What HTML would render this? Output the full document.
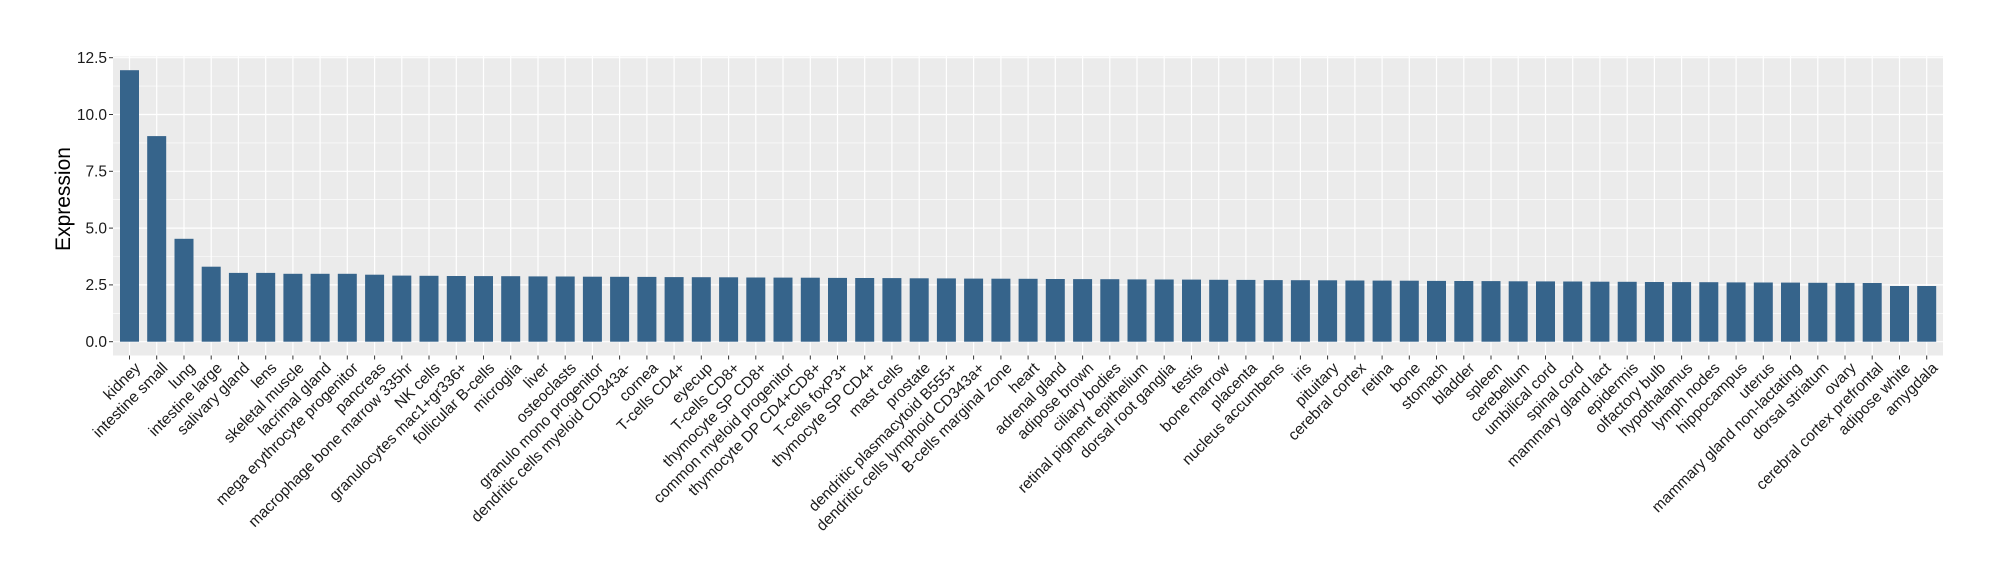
<!DOCTYPE html>
<html><head><meta charset="utf-8"><style>
html,body{margin:0;padding:0;background:#fff}
svg{display:block}
text{font-family:"Liberation Sans",Arial,sans-serif}
</style></head><body>
<svg width="2000" height="580" viewBox="0 0 2000 580" xmlns="http://www.w3.org/2000/svg">
<rect x="0" y="0" width="2000" height="580" fill="#fff"/>
<rect x="113" y="56.5" width="1830" height="299" fill="#EBEBEB"/>
<g stroke="#fff" stroke-width="0.6">
<line x1="113" x2="1943" y1="313.3" y2="313.3"/><line x1="113" x2="1943" y1="256.5" y2="256.5"/><line x1="113" x2="1943" y1="199.7" y2="199.7"/><line x1="113" x2="1943" y1="142.9" y2="142.9"/><line x1="113" x2="1943" y1="86.1" y2="86.1"/>
</g>
<g stroke="#fff" stroke-width="1.2">
<line x1="113" x2="1943" y1="341.7" y2="341.7"/><line x1="113" x2="1943" y1="284.9" y2="284.9"/><line x1="113" x2="1943" y1="228.1" y2="228.1"/><line x1="113" x2="1943" y1="171.3" y2="171.3"/><line x1="113" x2="1943" y1="114.5" y2="114.5"/><line x1="113" x2="1943" y1="57.7" y2="57.7"/>
</g>
<g font-size="15.5" fill="#1a1a1a" text-anchor="end">
<text x="107" y="347">0.0</text><text x="107" y="290.2">2.5</text><text x="107" y="233.4">5.0</text><text x="107" y="176.6">7.5</text><text x="107" y="119.8">10.0</text><text x="107" y="63">12.5</text>
</g>
<g stroke="#333" stroke-width="1">
<line x1="109" x2="113" y1="341.7" y2="341.7"/><line x1="109" x2="113" y1="284.9" y2="284.9"/><line x1="109" x2="113" y1="228.1" y2="228.1"/><line x1="109" x2="113" y1="171.3" y2="171.3"/><line x1="109" x2="113" y1="114.5" y2="114.5"/><line x1="109" x2="113" y1="57.7" y2="57.7"/>
</g>
<text transform="translate(70,199) rotate(-90)" text-anchor="middle" font-size="21" fill="#000">Expression</text>
<g id="bars" font-size="15.5" fill="#1a1a1a">
<g transform="translate(129.5,0)"><line x1="0" x2="0" y1="56.5" y2="355.5" stroke="#fff" stroke-width="1.2"/><rect x="-9.5" y="70.2" width="19" height="271.5" fill="#36648B"/><line x1="0" x2="0" y1="355.5" y2="359.5" stroke="#333"/><text transform="translate(4,361) rotate(-45)" text-anchor="end" dy="0.72em">kidney</text></g>
<g transform="translate(156.7,0)"><line x1="0" x2="0" y1="56.5" y2="355.5" stroke="#fff" stroke-width="1.2"/><rect x="-9.5" y="136.1" width="19" height="205.6" fill="#36648B"/><line x1="0" x2="0" y1="355.5" y2="359.5" stroke="#333"/><text transform="translate(4,361) rotate(-45)" text-anchor="end" dy="0.72em">intestine small</text></g>
<g transform="translate(184.0,0)"><line x1="0" x2="0" y1="56.5" y2="355.5" stroke="#fff" stroke-width="1.2"/><rect x="-9.5" y="238.8" width="19" height="102.9" fill="#36648B"/><line x1="0" x2="0" y1="355.5" y2="359.5" stroke="#333"/><text transform="translate(4,361) rotate(-45)" text-anchor="end" dy="0.72em">lung</text></g>
<g transform="translate(211.2,0)"><line x1="0" x2="0" y1="56.5" y2="355.5" stroke="#fff" stroke-width="1.2"/><rect x="-9.5" y="266.7" width="19" height="75" fill="#36648B"/><line x1="0" x2="0" y1="355.5" y2="359.5" stroke="#333"/><text transform="translate(4,361) rotate(-45)" text-anchor="end" dy="0.72em">intestine large</text></g>
<g transform="translate(238.4,0)"><line x1="0" x2="0" y1="56.5" y2="355.5" stroke="#fff" stroke-width="1.2"/><rect x="-9.5" y="272.9" width="19" height="68.8" fill="#36648B"/><line x1="0" x2="0" y1="355.5" y2="359.5" stroke="#333"/><text transform="translate(4,361) rotate(-45)" text-anchor="end" dy="0.72em">salivary gland</text></g>
<g transform="translate(265.7,0)"><line x1="0" x2="0" y1="56.5" y2="355.5" stroke="#fff" stroke-width="1.2"/><rect x="-9.5" y="272.9" width="19" height="68.8" fill="#36648B"/><line x1="0" x2="0" y1="355.5" y2="359.5" stroke="#333"/><text transform="translate(4,361) rotate(-45)" text-anchor="end" dy="0.72em">lens</text></g>
<g transform="translate(292.9,0)"><line x1="0" x2="0" y1="56.5" y2="355.5" stroke="#fff" stroke-width="1.2"/><rect x="-9.5" y="273.8" width="19" height="67.9" fill="#36648B"/><line x1="0" x2="0" y1="355.5" y2="359.5" stroke="#333"/><text transform="translate(4,361) rotate(-45)" text-anchor="end" dy="0.72em">skeletal muscle</text></g>
<g transform="translate(320.1,0)"><line x1="0" x2="0" y1="56.5" y2="355.5" stroke="#fff" stroke-width="1.2"/><rect x="-9.5" y="273.8" width="19" height="67.9" fill="#36648B"/><line x1="0" x2="0" y1="355.5" y2="359.5" stroke="#333"/><text transform="translate(4,361) rotate(-45)" text-anchor="end" dy="0.72em">lacrimal gland</text></g>
<g transform="translate(347.3,0)"><line x1="0" x2="0" y1="56.5" y2="355.5" stroke="#fff" stroke-width="1.2"/><rect x="-9.5" y="273.8" width="19" height="67.9" fill="#36648B"/><line x1="0" x2="0" y1="355.5" y2="359.5" stroke="#333"/><text transform="translate(4,361) rotate(-45)" text-anchor="end" dy="0.72em">mega erythrocyte progenitor</text></g>
<g transform="translate(374.6,0)"><line x1="0" x2="0" y1="56.5" y2="355.5" stroke="#fff" stroke-width="1.2"/><rect x="-9.5" y="274.7" width="19" height="67" fill="#36648B"/><line x1="0" x2="0" y1="355.5" y2="359.5" stroke="#333"/><text transform="translate(4,361) rotate(-45)" text-anchor="end" dy="0.72em">pancreas</text></g>
<g transform="translate(401.8,0)"><line x1="0" x2="0" y1="56.5" y2="355.5" stroke="#fff" stroke-width="1.2"/><rect x="-9.5" y="275.6" width="19" height="66.1" fill="#36648B"/><line x1="0" x2="0" y1="355.5" y2="359.5" stroke="#333"/><text transform="translate(4,361) rotate(-45)" text-anchor="end" dy="0.72em">macrophage bone marrow 335hr</text></g>
<g transform="translate(429.0,0)"><line x1="0" x2="0" y1="56.5" y2="355.5" stroke="#fff" stroke-width="1.2"/><rect x="-9.5" y="275.8" width="19" height="65.9" fill="#36648B"/><line x1="0" x2="0" y1="355.5" y2="359.5" stroke="#333"/><text transform="translate(4,361) rotate(-45)" text-anchor="end" dy="0.72em">NK cells</text></g>
<g transform="translate(456.3,0)"><line x1="0" x2="0" y1="56.5" y2="355.5" stroke="#fff" stroke-width="1.2"/><rect x="-9.5" y="276.0" width="19" height="65.7" fill="#36648B"/><line x1="0" x2="0" y1="355.5" y2="359.5" stroke="#333"/><text transform="translate(4,361) rotate(-45)" text-anchor="end" dy="0.72em">granulocytes mac1+gr336+</text></g>
<g transform="translate(483.5,0)"><line x1="0" x2="0" y1="56.5" y2="355.5" stroke="#fff" stroke-width="1.2"/><rect x="-9.5" y="276.1" width="19" height="65.6" fill="#36648B"/><line x1="0" x2="0" y1="355.5" y2="359.5" stroke="#333"/><text transform="translate(4,361) rotate(-45)" text-anchor="end" dy="0.72em">follicular B-cells</text></g>
<g transform="translate(510.7,0)"><line x1="0" x2="0" y1="56.5" y2="355.5" stroke="#fff" stroke-width="1.2"/><rect x="-9.5" y="276.2" width="19" height="65.5" fill="#36648B"/><line x1="0" x2="0" y1="355.5" y2="359.5" stroke="#333"/><text transform="translate(4,361) rotate(-45)" text-anchor="end" dy="0.72em">microglia</text></g>
<g transform="translate(538.0,0)"><line x1="0" x2="0" y1="56.5" y2="355.5" stroke="#fff" stroke-width="1.2"/><rect x="-9.5" y="276.4" width="19" height="65.3" fill="#36648B"/><line x1="0" x2="0" y1="355.5" y2="359.5" stroke="#333"/><text transform="translate(4,361) rotate(-45)" text-anchor="end" dy="0.72em">liver</text></g>
<g transform="translate(565.2,0)"><line x1="0" x2="0" y1="56.5" y2="355.5" stroke="#fff" stroke-width="1.2"/><rect x="-9.5" y="276.5" width="19" height="65.2" fill="#36648B"/><line x1="0" x2="0" y1="355.5" y2="359.5" stroke="#333"/><text transform="translate(4,361) rotate(-45)" text-anchor="end" dy="0.72em">osteoclasts</text></g>
<g transform="translate(592.4,0)"><line x1="0" x2="0" y1="56.5" y2="355.5" stroke="#fff" stroke-width="1.2"/><rect x="-9.5" y="276.7" width="19" height="65.0" fill="#36648B"/><line x1="0" x2="0" y1="355.5" y2="359.5" stroke="#333"/><text transform="translate(4,361) rotate(-45)" text-anchor="end" dy="0.72em">granulo mono progenitor</text></g>
<g transform="translate(619.6,0)"><line x1="0" x2="0" y1="56.5" y2="355.5" stroke="#fff" stroke-width="1.2"/><rect x="-9.5" y="276.8" width="19" height="64.9" fill="#36648B"/><line x1="0" x2="0" y1="355.5" y2="359.5" stroke="#333"/><text transform="translate(4,361) rotate(-45)" text-anchor="end" dy="0.72em">dendritic cells myeloid CD343a-</text></g>
<g transform="translate(646.9,0)"><line x1="0" x2="0" y1="56.5" y2="355.5" stroke="#fff" stroke-width="1.2"/><rect x="-9.5" y="276.9" width="19" height="64.8" fill="#36648B"/><line x1="0" x2="0" y1="355.5" y2="359.5" stroke="#333"/><text transform="translate(4,361) rotate(-45)" text-anchor="end" dy="0.72em">cornea</text></g>
<g transform="translate(674.1,0)"><line x1="0" x2="0" y1="56.5" y2="355.5" stroke="#fff" stroke-width="1.2"/><rect x="-9.5" y="277.1" width="19" height="64.6" fill="#36648B"/><line x1="0" x2="0" y1="355.5" y2="359.5" stroke="#333"/><text transform="translate(4,361) rotate(-45)" text-anchor="end" dy="0.72em">T-cells CD4+</text></g>
<g transform="translate(701.3,0)"><line x1="0" x2="0" y1="56.5" y2="355.5" stroke="#fff" stroke-width="1.2"/><rect x="-9.5" y="277.2" width="19" height="64.5" fill="#36648B"/><line x1="0" x2="0" y1="355.5" y2="359.5" stroke="#333"/><text transform="translate(4,361) rotate(-45)" text-anchor="end" dy="0.72em">eyecup</text></g>
<g transform="translate(728.6,0)"><line x1="0" x2="0" y1="56.5" y2="355.5" stroke="#fff" stroke-width="1.2"/><rect x="-9.5" y="277.3" width="19" height="64.4" fill="#36648B"/><line x1="0" x2="0" y1="355.5" y2="359.5" stroke="#333"/><text transform="translate(4,361) rotate(-45)" text-anchor="end" dy="0.72em">T-cells CD8+</text></g>
<g transform="translate(755.8,0)"><line x1="0" x2="0" y1="56.5" y2="355.5" stroke="#fff" stroke-width="1.2"/><rect x="-9.5" y="277.5" width="19" height="64.2" fill="#36648B"/><line x1="0" x2="0" y1="355.5" y2="359.5" stroke="#333"/><text transform="translate(4,361) rotate(-45)" text-anchor="end" dy="0.72em">thymocyte SP CD8+</text></g>
<g transform="translate(783.0,0)"><line x1="0" x2="0" y1="56.5" y2="355.5" stroke="#fff" stroke-width="1.2"/><rect x="-9.5" y="277.6" width="19" height="64.1" fill="#36648B"/><line x1="0" x2="0" y1="355.5" y2="359.5" stroke="#333"/><text transform="translate(4,361) rotate(-45)" text-anchor="end" dy="0.72em">common myeloid progenitor</text></g>
<g transform="translate(810.3,0)"><line x1="0" x2="0" y1="56.5" y2="355.5" stroke="#fff" stroke-width="1.2"/><rect x="-9.5" y="277.7" width="19" height="64.0" fill="#36648B"/><line x1="0" x2="0" y1="355.5" y2="359.5" stroke="#333"/><text transform="translate(4,361) rotate(-45)" text-anchor="end" dy="0.72em">thymocyte DP CD4+CD8+</text></g>
<g transform="translate(837.5,0)"><line x1="0" x2="0" y1="56.5" y2="355.5" stroke="#fff" stroke-width="1.2"/><rect x="-9.5" y="277.9" width="19" height="63.8" fill="#36648B"/><line x1="0" x2="0" y1="355.5" y2="359.5" stroke="#333"/><text transform="translate(4,361) rotate(-45)" text-anchor="end" dy="0.72em">T-cells foxP3+</text></g>
<g transform="translate(864.7,0)"><line x1="0" x2="0" y1="56.5" y2="355.5" stroke="#fff" stroke-width="1.2"/><rect x="-9.5" y="278.0" width="19" height="63.7" fill="#36648B"/><line x1="0" x2="0" y1="355.5" y2="359.5" stroke="#333"/><text transform="translate(4,361) rotate(-45)" text-anchor="end" dy="0.72em">thymocyte SP CD4+</text></g>
<g transform="translate(891.9,0)"><line x1="0" x2="0" y1="56.5" y2="355.5" stroke="#fff" stroke-width="1.2"/><rect x="-9.5" y="278.1" width="19" height="63.6" fill="#36648B"/><line x1="0" x2="0" y1="355.5" y2="359.5" stroke="#333"/><text transform="translate(4,361) rotate(-45)" text-anchor="end" dy="0.72em">mast cells</text></g>
<g transform="translate(919.2,0)"><line x1="0" x2="0" y1="56.5" y2="355.5" stroke="#fff" stroke-width="1.2"/><rect x="-9.5" y="278.3" width="19" height="63.4" fill="#36648B"/><line x1="0" x2="0" y1="355.5" y2="359.5" stroke="#333"/><text transform="translate(4,361) rotate(-45)" text-anchor="end" dy="0.72em">prostate</text></g>
<g transform="translate(946.4,0)"><line x1="0" x2="0" y1="56.5" y2="355.5" stroke="#fff" stroke-width="1.2"/><rect x="-9.5" y="278.4" width="19" height="63.3" fill="#36648B"/><line x1="0" x2="0" y1="355.5" y2="359.5" stroke="#333"/><text transform="translate(4,361) rotate(-45)" text-anchor="end" dy="0.72em">dendritic plasmacytoid B555+</text></g>
<g transform="translate(973.6,0)"><line x1="0" x2="0" y1="56.5" y2="355.5" stroke="#fff" stroke-width="1.2"/><rect x="-9.5" y="278.6" width="19" height="63.1" fill="#36648B"/><line x1="0" x2="0" y1="355.5" y2="359.5" stroke="#333"/><text transform="translate(4,361) rotate(-45)" text-anchor="end" dy="0.72em">dendritic cells lymphoid CD343a+</text></g>
<g transform="translate(1000.9,0)"><line x1="0" x2="0" y1="56.5" y2="355.5" stroke="#fff" stroke-width="1.2"/><rect x="-9.5" y="278.7" width="19" height="63.0" fill="#36648B"/><line x1="0" x2="0" y1="355.5" y2="359.5" stroke="#333"/><text transform="translate(4,361) rotate(-45)" text-anchor="end" dy="0.72em">B-cells marginal zone</text></g>
<g transform="translate(1028.1,0)"><line x1="0" x2="0" y1="56.5" y2="355.5" stroke="#fff" stroke-width="1.2"/><rect x="-9.5" y="278.8" width="19" height="62.9" fill="#36648B"/><line x1="0" x2="0" y1="355.5" y2="359.5" stroke="#333"/><text transform="translate(4,361) rotate(-45)" text-anchor="end" dy="0.72em">heart</text></g>
<g transform="translate(1055.3,0)"><line x1="0" x2="0" y1="56.5" y2="355.5" stroke="#fff" stroke-width="1.2"/><rect x="-9.5" y="279.0" width="19" height="62.7" fill="#36648B"/><line x1="0" x2="0" y1="355.5" y2="359.5" stroke="#333"/><text transform="translate(4,361) rotate(-45)" text-anchor="end" dy="0.72em">adrenal gland</text></g>
<g transform="translate(1082.6,0)"><line x1="0" x2="0" y1="56.5" y2="355.5" stroke="#fff" stroke-width="1.2"/><rect x="-9.5" y="279.1" width="19" height="62.6" fill="#36648B"/><line x1="0" x2="0" y1="355.5" y2="359.5" stroke="#333"/><text transform="translate(4,361) rotate(-45)" text-anchor="end" dy="0.72em">adipose brown</text></g>
<g transform="translate(1109.8,0)"><line x1="0" x2="0" y1="56.5" y2="355.5" stroke="#fff" stroke-width="1.2"/><rect x="-9.5" y="279.2" width="19" height="62.5" fill="#36648B"/><line x1="0" x2="0" y1="355.5" y2="359.5" stroke="#333"/><text transform="translate(4,361) rotate(-45)" text-anchor="end" dy="0.72em">ciliary bodies</text></g>
<g transform="translate(1137.0,0)"><line x1="0" x2="0" y1="56.5" y2="355.5" stroke="#fff" stroke-width="1.2"/><rect x="-9.5" y="279.4" width="19" height="62.3" fill="#36648B"/><line x1="0" x2="0" y1="355.5" y2="359.5" stroke="#333"/><text transform="translate(4,361) rotate(-45)" text-anchor="end" dy="0.72em">retinal pigment epithelium</text></g>
<g transform="translate(1164.2,0)"><line x1="0" x2="0" y1="56.5" y2="355.5" stroke="#fff" stroke-width="1.2"/><rect x="-9.5" y="279.5" width="19" height="62.2" fill="#36648B"/><line x1="0" x2="0" y1="355.5" y2="359.5" stroke="#333"/><text transform="translate(4,361) rotate(-45)" text-anchor="end" dy="0.72em">dorsal root ganglia</text></g>
<g transform="translate(1191.5,0)"><line x1="0" x2="0" y1="56.5" y2="355.5" stroke="#fff" stroke-width="1.2"/><rect x="-9.5" y="279.6" width="19" height="62.1" fill="#36648B"/><line x1="0" x2="0" y1="355.5" y2="359.5" stroke="#333"/><text transform="translate(4,361) rotate(-45)" text-anchor="end" dy="0.72em">testis</text></g>
<g transform="translate(1218.7,0)"><line x1="0" x2="0" y1="56.5" y2="355.5" stroke="#fff" stroke-width="1.2"/><rect x="-9.5" y="279.8" width="19" height="61.9" fill="#36648B"/><line x1="0" x2="0" y1="355.5" y2="359.5" stroke="#333"/><text transform="translate(4,361) rotate(-45)" text-anchor="end" dy="0.72em">bone marrow</text></g>
<g transform="translate(1245.9,0)"><line x1="0" x2="0" y1="56.5" y2="355.5" stroke="#fff" stroke-width="1.2"/><rect x="-9.5" y="279.9" width="19" height="61.8" fill="#36648B"/><line x1="0" x2="0" y1="355.5" y2="359.5" stroke="#333"/><text transform="translate(4,361) rotate(-45)" text-anchor="end" dy="0.72em">placenta</text></g>
<g transform="translate(1273.2,0)"><line x1="0" x2="0" y1="56.5" y2="355.5" stroke="#fff" stroke-width="1.2"/><rect x="-9.5" y="280.1" width="19" height="61.6" fill="#36648B"/><line x1="0" x2="0" y1="355.5" y2="359.5" stroke="#333"/><text transform="translate(4,361) rotate(-45)" text-anchor="end" dy="0.72em">nucleus accumbens</text></g>
<g transform="translate(1300.4,0)"><line x1="0" x2="0" y1="56.5" y2="355.5" stroke="#fff" stroke-width="1.2"/><rect x="-9.5" y="280.2" width="19" height="61.5" fill="#36648B"/><line x1="0" x2="0" y1="355.5" y2="359.5" stroke="#333"/><text transform="translate(4,361) rotate(-45)" text-anchor="end" dy="0.72em">iris</text></g>
<g transform="translate(1327.6,0)"><line x1="0" x2="0" y1="56.5" y2="355.5" stroke="#fff" stroke-width="1.2"/><rect x="-9.5" y="280.3" width="19" height="61.4" fill="#36648B"/><line x1="0" x2="0" y1="355.5" y2="359.5" stroke="#333"/><text transform="translate(4,361) rotate(-45)" text-anchor="end" dy="0.72em">pituitary</text></g>
<g transform="translate(1354.9,0)"><line x1="0" x2="0" y1="56.5" y2="355.5" stroke="#fff" stroke-width="1.2"/><rect x="-9.5" y="280.5" width="19" height="61.2" fill="#36648B"/><line x1="0" x2="0" y1="355.5" y2="359.5" stroke="#333"/><text transform="translate(4,361) rotate(-45)" text-anchor="end" dy="0.72em">cerebral cortex</text></g>
<g transform="translate(1382.1,0)"><line x1="0" x2="0" y1="56.5" y2="355.5" stroke="#fff" stroke-width="1.2"/><rect x="-9.5" y="280.6" width="19" height="61.1" fill="#36648B"/><line x1="0" x2="0" y1="355.5" y2="359.5" stroke="#333"/><text transform="translate(4,361) rotate(-45)" text-anchor="end" dy="0.72em">retina</text></g>
<g transform="translate(1409.3,0)"><line x1="0" x2="0" y1="56.5" y2="355.5" stroke="#fff" stroke-width="1.2"/><rect x="-9.5" y="280.7" width="19" height="61.0" fill="#36648B"/><line x1="0" x2="0" y1="355.5" y2="359.5" stroke="#333"/><text transform="translate(4,361) rotate(-45)" text-anchor="end" dy="0.72em">bone</text></g>
<g transform="translate(1436.5,0)"><line x1="0" x2="0" y1="56.5" y2="355.5" stroke="#fff" stroke-width="1.2"/><rect x="-9.5" y="280.9" width="19" height="60.8" fill="#36648B"/><line x1="0" x2="0" y1="355.5" y2="359.5" stroke="#333"/><text transform="translate(4,361) rotate(-45)" text-anchor="end" dy="0.72em">stomach</text></g>
<g transform="translate(1463.8,0)"><line x1="0" x2="0" y1="56.5" y2="355.5" stroke="#fff" stroke-width="1.2"/><rect x="-9.5" y="281.0" width="19" height="60.7" fill="#36648B"/><line x1="0" x2="0" y1="355.5" y2="359.5" stroke="#333"/><text transform="translate(4,361) rotate(-45)" text-anchor="end" dy="0.72em">bladder</text></g>
<g transform="translate(1491.0,0)"><line x1="0" x2="0" y1="56.5" y2="355.5" stroke="#fff" stroke-width="1.2"/><rect x="-9.5" y="281.1" width="19" height="60.6" fill="#36648B"/><line x1="0" x2="0" y1="355.5" y2="359.5" stroke="#333"/><text transform="translate(4,361) rotate(-45)" text-anchor="end" dy="0.72em">spleen</text></g>
<g transform="translate(1518.2,0)"><line x1="0" x2="0" y1="56.5" y2="355.5" stroke="#fff" stroke-width="1.2"/><rect x="-9.5" y="281.3" width="19" height="60.4" fill="#36648B"/><line x1="0" x2="0" y1="355.5" y2="359.5" stroke="#333"/><text transform="translate(4,361) rotate(-45)" text-anchor="end" dy="0.72em">cerebellum</text></g>
<g transform="translate(1545.5,0)"><line x1="0" x2="0" y1="56.5" y2="355.5" stroke="#fff" stroke-width="1.2"/><rect x="-9.5" y="281.4" width="19" height="60.3" fill="#36648B"/><line x1="0" x2="0" y1="355.5" y2="359.5" stroke="#333"/><text transform="translate(4,361) rotate(-45)" text-anchor="end" dy="0.72em">umbilical cord</text></g>
<g transform="translate(1572.7,0)"><line x1="0" x2="0" y1="56.5" y2="355.5" stroke="#fff" stroke-width="1.2"/><rect x="-9.5" y="281.5" width="19" height="60.2" fill="#36648B"/><line x1="0" x2="0" y1="355.5" y2="359.5" stroke="#333"/><text transform="translate(4,361) rotate(-45)" text-anchor="end" dy="0.72em">spinal cord</text></g>
<g transform="translate(1599.9,0)"><line x1="0" x2="0" y1="56.5" y2="355.5" stroke="#fff" stroke-width="1.2"/><rect x="-9.5" y="281.7" width="19" height="60.0" fill="#36648B"/><line x1="0" x2="0" y1="355.5" y2="359.5" stroke="#333"/><text transform="translate(4,361) rotate(-45)" text-anchor="end" dy="0.72em">mammary gland  lact</text></g>
<g transform="translate(1627.2,0)"><line x1="0" x2="0" y1="56.5" y2="355.5" stroke="#fff" stroke-width="1.2"/><rect x="-9.5" y="281.8" width="19" height="59.9" fill="#36648B"/><line x1="0" x2="0" y1="355.5" y2="359.5" stroke="#333"/><text transform="translate(4,361) rotate(-45)" text-anchor="end" dy="0.72em">epidermis</text></g>
<g transform="translate(1654.4,0)"><line x1="0" x2="0" y1="56.5" y2="355.5" stroke="#fff" stroke-width="1.2"/><rect x="-9.5" y="282.0" width="19" height="59.7" fill="#36648B"/><line x1="0" x2="0" y1="355.5" y2="359.5" stroke="#333"/><text transform="translate(4,361) rotate(-45)" text-anchor="end" dy="0.72em">olfactory bulb</text></g>
<g transform="translate(1681.6,0)"><line x1="0" x2="0" y1="56.5" y2="355.5" stroke="#fff" stroke-width="1.2"/><rect x="-9.5" y="282.1" width="19" height="59.6" fill="#36648B"/><line x1="0" x2="0" y1="355.5" y2="359.5" stroke="#333"/><text transform="translate(4,361) rotate(-45)" text-anchor="end" dy="0.72em">hypothalamus</text></g>
<g transform="translate(1708.8,0)"><line x1="0" x2="0" y1="56.5" y2="355.5" stroke="#fff" stroke-width="1.2"/><rect x="-9.5" y="282.2" width="19" height="59.5" fill="#36648B"/><line x1="0" x2="0" y1="355.5" y2="359.5" stroke="#333"/><text transform="translate(4,361) rotate(-45)" text-anchor="end" dy="0.72em">lymph nodes</text></g>
<g transform="translate(1736.1,0)"><line x1="0" x2="0" y1="56.5" y2="355.5" stroke="#fff" stroke-width="1.2"/><rect x="-9.5" y="282.4" width="19" height="59.3" fill="#36648B"/><line x1="0" x2="0" y1="355.5" y2="359.5" stroke="#333"/><text transform="translate(4,361) rotate(-45)" text-anchor="end" dy="0.72em">hippocampus</text></g>
<g transform="translate(1763.3,0)"><line x1="0" x2="0" y1="56.5" y2="355.5" stroke="#fff" stroke-width="1.2"/><rect x="-9.5" y="282.5" width="19" height="59.2" fill="#36648B"/><line x1="0" x2="0" y1="355.5" y2="359.5" stroke="#333"/><text transform="translate(4,361) rotate(-45)" text-anchor="end" dy="0.72em">uterus</text></g>
<g transform="translate(1790.5,0)"><line x1="0" x2="0" y1="56.5" y2="355.5" stroke="#fff" stroke-width="1.2"/><rect x="-9.5" y="282.6" width="19" height="59.1" fill="#36648B"/><line x1="0" x2="0" y1="355.5" y2="359.5" stroke="#333"/><text transform="translate(4,361) rotate(-45)" text-anchor="end" dy="0.72em">mammary gland non-lactating</text></g>
<g transform="translate(1817.8,0)"><line x1="0" x2="0" y1="56.5" y2="355.5" stroke="#fff" stroke-width="1.2"/><rect x="-9.5" y="282.8" width="19" height="58.9" fill="#36648B"/><line x1="0" x2="0" y1="355.5" y2="359.5" stroke="#333"/><text transform="translate(4,361) rotate(-45)" text-anchor="end" dy="0.72em">dorsal striatum</text></g>
<g transform="translate(1845.0,0)"><line x1="0" x2="0" y1="56.5" y2="355.5" stroke="#fff" stroke-width="1.2"/><rect x="-9.5" y="282.9" width="19" height="58.8" fill="#36648B"/><line x1="0" x2="0" y1="355.5" y2="359.5" stroke="#333"/><text transform="translate(4,361) rotate(-45)" text-anchor="end" dy="0.72em">ovary</text></g>
<g transform="translate(1872.2,0)"><line x1="0" x2="0" y1="56.5" y2="355.5" stroke="#fff" stroke-width="1.2"/><rect x="-9.5" y="283.0" width="19" height="58.7" fill="#36648B"/><line x1="0" x2="0" y1="355.5" y2="359.5" stroke="#333"/><text transform="translate(4,361) rotate(-45)" text-anchor="end" dy="0.72em">cerebral cortex prefrontal</text></g>
<g transform="translate(1899.5,0)"><line x1="0" x2="0" y1="56.5" y2="355.5" stroke="#fff" stroke-width="1.2"/><rect x="-9.5" y="286.0" width="19" height="55.7" fill="#36648B"/><line x1="0" x2="0" y1="355.5" y2="359.5" stroke="#333"/><text transform="translate(4,361) rotate(-45)" text-anchor="end" dy="0.72em">adipose white</text></g>
<g transform="translate(1926.7,0)"><line x1="0" x2="0" y1="56.5" y2="355.5" stroke="#fff" stroke-width="1.2"/><rect x="-9.5" y="286.0" width="19" height="55.7" fill="#36648B"/><line x1="0" x2="0" y1="355.5" y2="359.5" stroke="#333"/><text transform="translate(4,361) rotate(-45)" text-anchor="end" dy="0.72em">amygdala</text></g>
</g>
</svg>
</body></html>
